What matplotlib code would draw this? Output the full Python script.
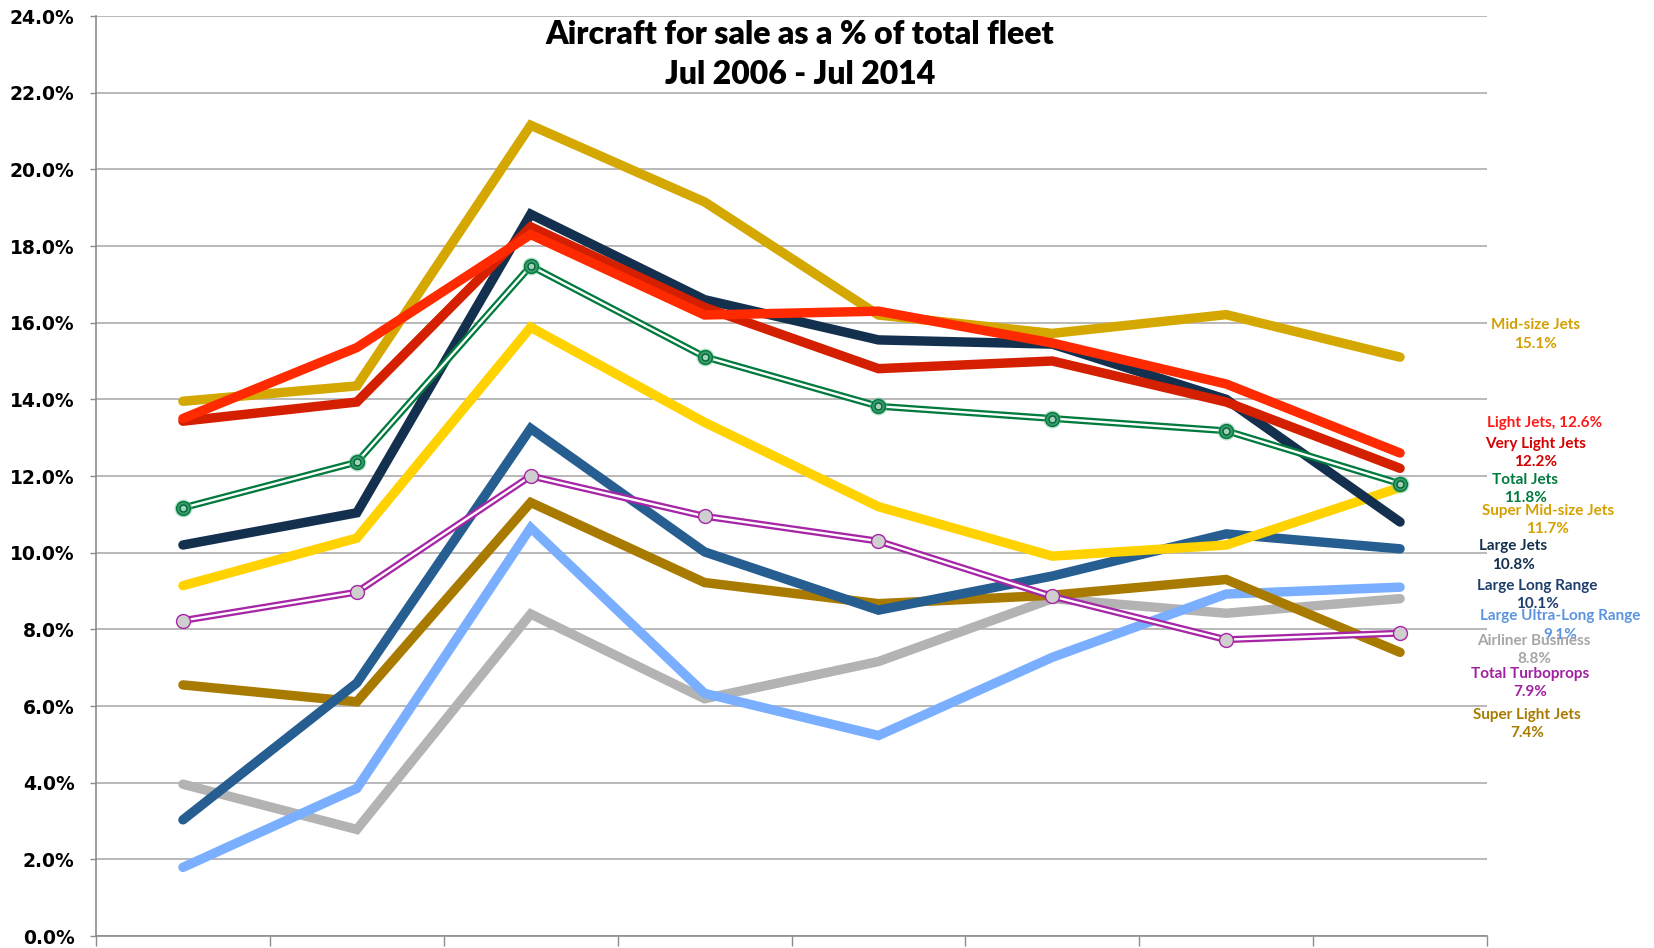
import matplotlib
matplotlib.use("Agg")
import matplotlib.pyplot as plt
import numpy as np

periods = ["Jul 2006", "Jul 2007", "Jul 2008", "Jul 2009", "Jul 2010", "Jul 2011", "Jul 2012", "Jul 2014"]

mid_size = [13.95, 14.35, 21.15, 19.15, 16.2, 15.72, 16.21, 15.1]
light = [13.5, 15.35, 18.3, 16.2, 16.3, 15.47, 14.4, 12.6]
very_light = [13.43, 13.93, 18.5, 16.4, 14.8, 15.0, 13.93, 12.2]
large = [10.2, 11.04, 18.83, 16.6, 15.55, 15.44, 14.0, 10.8]
total_jets = [11.17, 12.36, 17.48, 15.11, 13.82, 13.5, 13.18, 11.8]
super_mid = [9.14, 10.38, 15.88, 13.4, 11.2, 9.91, 10.2, 11.7]
large_long = [3.03, 6.6, 13.24, 10.02, 8.5, 9.39, 10.49, 10.1]
large_ultra = [1.79, 3.85, 10.65, 6.33, 5.23, 7.27, 8.92, 9.1]
airliner = [3.96, 2.78, 8.4, 6.19, 7.16, 8.8, 8.42, 8.8]
turboprops = [8.23, 8.97, 12.0, 10.95, 10.3, 8.86, 7.73, 7.9]
super_light = [6.55, 6.11, 11.31, 9.22, 8.67, 8.89, 9.3, 7.4]

yticks = [0, 2, 4, 6, 8, 10, 12, 14, 16, 18, 20, 22, 24]

fig = plt.figure(figsize=(16.54, 9.48), dpi=100)
ax = fig.add_axes([96/1654, 1-936/948, (1487-96)/1654, (936-16)/948])

x = np.arange(len(periods))
LW = 6.8

# thick lines, bottom to top
thick = [
    (airliner, "#B3B3B3"),
    (large_ultra, "#7AAEFF"),
    (super_light, "#A87A00"),
    (large_long, "#265E91"),
    (super_mid, "#FFD200"),
    (large, "#14304F"),
    (mid_size, "#D4A800"),
    (very_light, "#D42000"),
    (light, "#FF2A00"),
]
for vals, col in thick:
    ax.plot(x, vals, color=col, lw=LW, solid_capstyle="round", solid_joinstyle="miter", zorder=3)

# double lines with markers
for vals, col, mface, medge in [(turboprops, "#A626A6", "#CFCFCF", "#A626A6"),
                                 (total_jets, "#007A3D", "#3A9A6A", "#007A3D")]:
    ax.plot(x, vals, color=col, lw=5.0, zorder=4, solid_capstyle="round")
    ax.plot(x, vals, color="white", lw=1.7, zorder=4.1)
    ax.plot(x, vals, ls="none", marker="o", ms=10, mfc=mface, mec=medge, mew=1.0, zorder=5)
    if col == "#007A3D":
        ax.plot(x, vals, ls="none", marker="o", ms=13, mfc="#6BBE95", mec="none", alpha=0.45, zorder=4.9)
        ax.plot(x, vals, ls="none", marker="o", ms=5, mfc="#9FD3B8", mec="#00643A", mew=1.0, zorder=5.1)

ax.set_xlim(-0.5, len(periods) - 0.5)
ax.set_ylim(0, 24)
ax.set_yticks(yticks)
ax.set_yticklabels([f"{v:.1f}%" for v in yticks], fontsize=13.5, fontweight="bold", family="DejaVu Sans")
ax.set_xticks(np.arange(len(periods) + 1) - 0.5)
ax.set_xticklabels([])
ax.tick_params(axis="x", length=7, color="#8C8C8C", direction="out", width=1)
ax.tick_params(axis="y", length=4.5, color="#8C8C8C", direction="out", width=1, pad=11)
ax.grid(axis="y", color="#A6A6A6", lw=1.1, zorder=1)
for s in ["top", "right"]:
    ax.spines[s].set_visible(False)
for s in ["left", "bottom"]:
    ax.spines[s].set_color("#8C8C8C")
    ax.spines[s].set_linewidth(1.2)
ax.set_axisbelow(True)

fig.text(800/1654, 1-35/948, "Aircraft for sale as a % of total fleet", ha="center", va="center",
         fontsize=23, fontweight="heavy", family="Lato")
fig.text(800/1654, 1-74/948, "Jul 2006 - Jul 2014", ha="center", va="center",
         fontsize=23, fontweight="heavy", family="Lato")

# right-side labels: (name, values, color, label y in data units, x center in data units)
labels = [
    ("Mid-size Jets", mid_size, "#D4A000", 15.69, 7.78),
    ("Light Jets", light, "#FF1A1A", None, 7.83),
    ("Very Light Jets", very_light, "#D40000", 12.6, 7.78),
    ("Total Jets", total_jets, "#007A3D", 11.66, 7.72),
    ("Super Mid-size Jets", super_mid, "#D4A000", 10.85, 7.85),
    ("Large Jets", large, "#14304F", 9.93, 7.65),
    ("Large Long Range", large_long, "#1F3F6F", 8.9, 7.79),
    ("Large Ultra-Long Range", large_ultra, "#5B94E0", 8.1, 7.92),
    ("Airliner Business", airliner, "#A6A6A6", 7.46, 7.77),
    ("Total Turboprops", turboprops, "#A020A0", 6.6, 7.75),
    ("Super Light Jets", super_light, "#A87A00", 5.53, 7.73),
]
for name, vals, col, ly, lx in labels:
    if ly is None:
        ax.text(lx, (887-401)/36.33, f"{name}, {vals[-1]:.1f}%", color=col, ha="center", va="center",
                fontsize=11, fontweight="bold", family="Lato", clip_on=False)
    else:
        ax.text(lx, ly, f"{name}\n{vals[-1]:.1f}%", color=col, ha="center", va="center",
                fontsize=11, fontweight="bold", family="Lato", linespacing=1.4, clip_on=False)

fig.savefig("out.png", dpi=100)
